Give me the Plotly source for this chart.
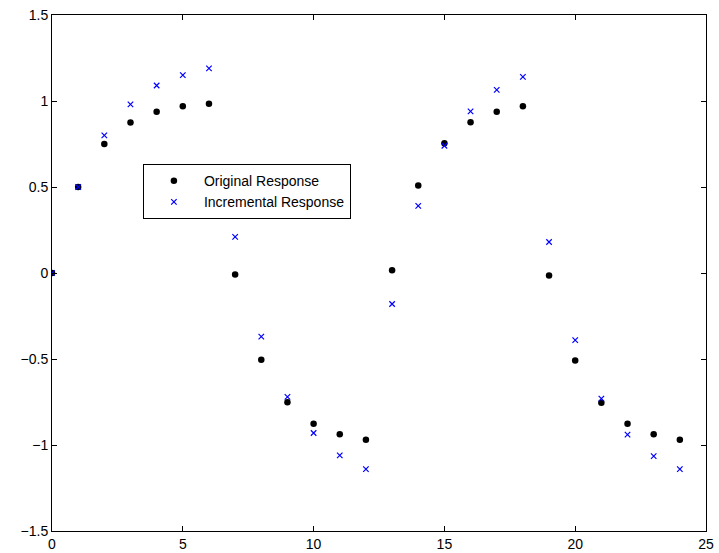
import plotly.graph_objects as go

n = list(range(25))
original = [0, 0.5, 0.75, 0.875, 0.9375, 0.969, 0.984, -0.008, -0.504, -0.752, -0.876, -0.938, -0.969,
            0.016, 0.508, 0.754, 0.877, 0.938, 0.969, -0.015, -0.508, -0.754, -0.877, -0.938, -0.969]
incremental = [0, 0.5, 0.80, 0.98, 1.09, 1.15, 1.19, 0.21, -0.37, -0.72, -0.93, -1.06, -1.14,
               -0.18, 0.39, 0.74, 0.94, 1.065, 1.14, 0.18, -0.39, -0.73, -0.94, -1.065, -1.14]

fig = go.Figure()
fig.add_trace(go.Scatter(x=n, y=original, mode="markers", name="Original Response",
                         marker=dict(symbol="circle", size=6.5, color="black")))
fig.add_trace(go.Scatter(x=n, y=incremental, mode="markers", name="Incremental Response",
                         marker=dict(symbol="x-thin", size=5.5, color="blue",
                                     line=dict(color="blue", width=1.2))))

axis_common = dict(showgrid=False, zeroline=False, showline=True, linecolor="black", linewidth=1,
                   mirror="ticks", ticks="inside", ticklen=5, tickcolor="black", automargin=False,
                   tickfont=dict(family="Liberation Sans, Arial, sans-serif", size=14, color="black"))
fig.update_xaxes(range=[0, 25], dtick=5, tick0=0, **axis_common)
fig.update_yaxes(range=[-1.5, 1.5], dtick=0.5, tick0=0, **axis_common)

fig.update_layout(
    width=719, height=553,
    margin=dict(l=52, r=13, t=15, b=22, autoexpand=False),
    paper_bgcolor="white", plot_bgcolor="white",
    font=dict(family="Liberation Sans, Arial, sans-serif", size=14, color="black"),
    legend=dict(x=0.139, y=0.711, xanchor="left", yanchor="top",
                bordercolor="black", borderwidth=1, bgcolor="white",
                font=dict(size=14), itemwidth=50, tracegroupgap=0),
    showlegend=True,
)
fig.write_html("out.html")
